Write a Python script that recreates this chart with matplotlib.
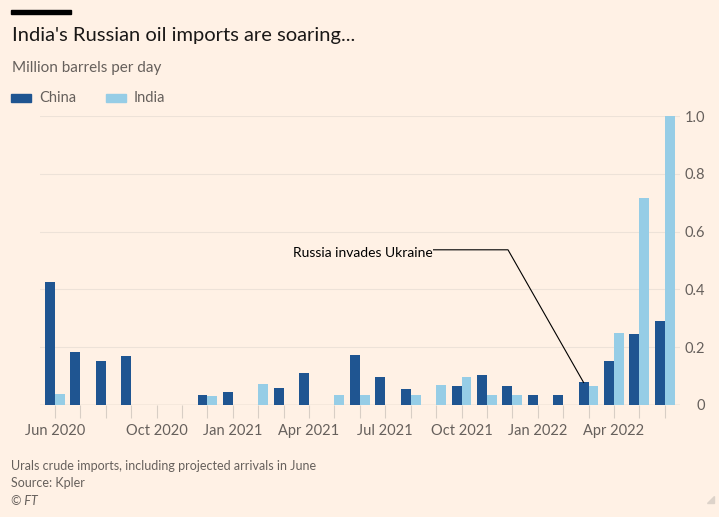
import matplotlib.pyplot as plt
import numpy as np
from matplotlib.patches import Rectangle, Polygon

# data (million barrels per day), Jun 2020 .. Jun 2022
months = ['Jun 2020', 'Jul 2020', 'Aug 2020', 'Sep 2020', 'Oct 2020', 'Nov 2020',
          'Dec 2020', 'Jan 2021', 'Feb 2021', 'Mar 2021', 'Apr 2021', 'May 2021',
          'Jun 2021', 'Jul 2021', 'Aug 2021', 'Sep 2021', 'Oct 2021', 'Nov 2021',
          'Dec 2021', 'Jan 2022', 'Feb 2022', 'Mar 2022', 'Apr 2022', 'May 2022',
          'Jun 2022']
china = [0.427, 0.182, 0.152, 0.170, 0, 0, 0.035, 0.045, 0, 0.059, 0.112, 0,
         0.172, 0.098, 0.054, 0, 0.067, 0.103, 0.066, 0.033, 0.036, 0.078,
         0.152, 0.245, 0.290]
india = [0.037, 0, 0, 0, 0, 0, 0.032, 0, 0.074, 0, 0, 0.033,
         0.035, 0, 0.033, 0.070, 0.098, 0.033, 0.033, 0, 0, 0.066,
         0.250, 0.715, 1.0]
labelled = ['Jun 2020', 'Oct 2020', 'Jan 2021', 'Apr 2021', 'Jul 2021',
            'Oct 2021', 'Jan 2022', 'Apr 2022']
yticks = [0, 0.2, 0.4, 0.6, 0.8, 1.0]

bg = '#fff1e5'
c_china = '#1f5591'
c_india = '#96cde6'
grey = '#66605c'
plt.rcParams['font.family'] = ['Lato', 'DejaVu Sans']

fig = plt.figure(figsize=(7.19, 5.17), dpi=100, facecolor=bg)
ax = fig.add_axes([40/719, 1-405/517, 640/719, 289/517])
ax.set_facecolor(bg)

x = np.arange(len(months))
w = 0.39
ax.bar(x - w/2, china, w, color=c_china, zorder=3)
ax.bar(x + w/2, india, w, color=c_india, zorder=3, clip_on=False)

ax.set_xlim(-0.59, 24.6)
ax.set_ylim(0, 1.0)
for s in ax.spines.values():
    s.set_visible(False)
ax.axhline(0, color='#cfc5bc', lw=1, zorder=2)
for yv in yticks[1:]:
    ax.axhline(yv, color='#ede2d8', lw=0.8, zorder=1)

ax.yaxis.tick_right()
ax.set_yticks(yticks)
ax.set_yticklabels(['0' if v == 0 else f'{v:.1f}' for v in yticks])
ax.tick_params(axis='y', length=0, pad=18, labelsize=10.5, labelcolor=grey)
for t in ax.get_yticklabels():
    t.set_horizontalalignment('right')

ax.set_xticks(x)
ax.set_xticklabels([m if m in labelled else '' for m in months])
ax.tick_params(axis='x', length=9, width=0.8, color='#d8cec5', pad=5,
               labelsize=10.5, labelcolor=grey)

# annotation
tx, ty = 14.85, 0.527
ax.text(tx, ty, 'Russia invades Ukraine', ha='right', va='center', fontsize=10,
        color='black', zorder=5)
ax.plot([tx + 0.05, 17.83, x[21] - w/2], [ty + 0.01, ty + 0.01, china[21]],
        color='black', lw=0.8, zorder=5, clip_on=False)

# header
fig.patches.append(Rectangle((11/719, 1-14/517), 60/719, 4/517,
                             transform=fig.transFigure, color='black'))
fig.text(12/719, 1-35/517, "India's Russian oil imports are soaring...",
         fontsize=14.5, color='#1a1817', va='center')
fig.text(12/719, 1-68/517, 'Million barrels per day', fontsize=11,
         color=grey, va='center')
fig.patches.append(Rectangle((11/719, 1-102/517), 20/719, 8/517,
                             transform=fig.transFigure, color=c_china))
fig.text(39/719, 1-98/517, 'China', fontsize=10.5, color=grey, va='center')
fig.patches.append(Rectangle((106/719, 1-102/517), 20/719, 8/517,
                             transform=fig.transFigure, color=c_india))
fig.text(134/719, 1-98/517, 'India', fontsize=10.5, color=grey, va='center')

# footer
fig.text(11/719, 1-466/517,
         'Urals crude imports, including projected arrivals in June',
         fontsize=9, color=grey, va='center')
fig.text(11/719, 1-483/517, 'Source: Kpler', fontsize=9, color=grey,
         va='center')
fig.text(11/719, 1-501/517, '© FT', fontsize=9, color=grey, va='center',
         style='italic')
fig.patches.append(Polygon([(707/719, 1-503/517), (714/719, 1-503/517),
                            (714/719, 1-496/517)], closed=True,
                           transform=fig.transFigure, color='#ddd3ca'))

fig.savefig('out.png', dpi=100, facecolor=bg)
